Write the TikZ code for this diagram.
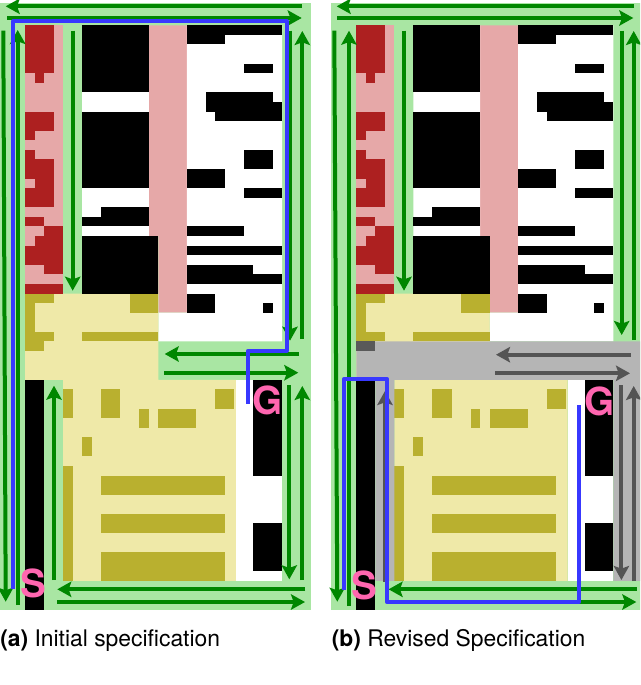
\documentclass[tikz,border=0pt]{standalone}
\usepackage{fontspec}
\setmainfont{TeX Gyre Heros}
\usepackage{xcolor}
\usetikzlibrary{arrows.meta}
\definecolor{mapgreen}{HTML}{A9E6A3}
\definecolor{mappink}{HTML}{E6A8A8}
\definecolor{mapred}{HTML}{AD2020}
\definecolor{mapyellow}{HTML}{EFE9A8}
\definecolor{mapolive}{HTML}{B9B02F}
\definecolor{mapgray}{HTML}{B5B5B5}
\definecolor{pathblue}{HTML}{3838FF}
\definecolor{labelpink}{HTML}{FF66B0}
\tikzset{
  lane/.style={line width=3pt,-{Stealth[length=10.5pt,width=11.5pt,inset=2pt]}},
  greenlane/.style={lane,color=green!53!black},
  graylane/.style={lane,color=black!67},
  route/.style={line width=2.8pt,pathblue,line join=round},
  endlabel/.style={font=\fontsize{29pt}{29pt}\selectfont\bfseries,labelpink,inner sep=0pt},
  subcaption/.style={font=\fontsize{17.15pt}{20pt}\selectfont,anchor=base west,inner sep=0pt}
}
% the map, in grid cells
\newcommand{\mapcells}{
  \fill[mapgreen] (-2.62,-2.36) rectangle (30,61);
  \fill[mappink] (0,0) rectangle (4,28);
  \fill[mappink] (13,0) rectangle (17,22) (14,22) rectangle (17,30);
  \fill[white] (6,0) rectangle (13,22) (17,0) rectangle (27,33) (14,30) rectangle (17,33);
  \fill[mapyellow] (0,28) rectangle (14,37) (4,37) rectangle (22.2,58);
  \fill[white] (22.2,37) rectangle (27,58);
  \foreach \xa/\ya/\xb/\yb in {0/0/3/5,1/5/2/6,0/9/3/11,0/11/1/12,0/13/1/14,0/14/3/16,1/16/3/17,0/17/3/19,
      0/20/2/21,2/21/4/22,1/22/4/23,0/23/4/25,2/25/4/26,0/27/4/28}
    \fill[mapred] (\xa,\ya) rectangle (\xb,\yb);
  \foreach \xa/\ya/\xb/\yb in {0/28/3/29,0/29/1/33,0/32/3/33,0/33/2/34,11/28/14/30,6/32/14/33,
      4/38/5/41,8/38/10/41,20/38/22/40,12/40/13/42,14/40/18/42,6/43/7/45,4/46/5/58,
      8/47/21/49,8/51/21/53,8/55/21/58}
    \fill[mapolive] (\xa,\ya) rectangle (\xb,\yb);
  \foreach \xa/\ya/\xb/\yb in {6/0/13/7,6/9/13/17,8/19/13/20,6/20/13/21,6/22/14/28,
      17/0/27/1,17/1/21/2,23/4/26/5,19/7/26/8,19/8/27/9,20/9/27/10,23/13/26/15,17/15/21/17,
      23/17/27/18,17/21/23/22,17/23/27/24,17/25/24/26,17/26/27/27,17/28/20/30,25/29/26/30,
      24/37/27/47,24/52/27/57,0/37/2/61}
    \fill[black] (\xa,\ya) rectangle (\xb,\yb);
}
\begin{document}
\begin{tikzpicture}[x=0.75pt,y=-0.75pt]
  \clip[use as bounding box] (0,0) rectangle (640,685);

  % (a)
  \begin{scope}[shift={(25,25.3)},x=7.14pt,y=-7.185pt]
    \mapcells
  \end{scope}
  \foreach \xa/\ya/\xb/\yb in {302/6.3/5.7/6.3,7.3/18/301.7/18,3.3/30.7/5.7/601.7,17.7/605/17.7/30,72.7/30.7/72.7/290.7,
      290/30.7/290/340.7,302.3/339/302.3/31,299/354/164.7/354,164/372.7/298.3/372.7,54/580/54/385.7,
      289.3/385.3/289.3/579.3,302.3/580/302.3/386,305.3/589.3/57.3/589.3,57.3/602/305/602}
    \draw[greenlane] (\xa,\ya) -- (\xb,\yb);
  \draw[route] (13.3,589.3) -- (13.3,21) -- (286.7,21) -- (286.7,350.7) -- (247.7,350.7) -- (247.7,404);
  \node[endlabel] (starta) at (33.3,583) {S};
  \node[endlabel] (goala) at (268,400.7) {G};
  \node[subcaption] (captiona) at (0,646) {\textbf{(a)} Initial specification};

  % (b)
  \begin{scope}[shift={(356.3,25.3)},x=7.14pt,y=-7.185pt]
    \mapcells
    \fill[mapgray] (0,33) rectangle (30,37) (2,37) rectangle (4,58) (27,37) rectangle (30,58);
    \fill[black!65] (0,33) rectangle (2,34);
  \end{scope}
  \foreach \xa/\ya/\xb/\yb in {634/6.3/336.7/6.3,337.3/18/633.3/18,334.3/30.7/337.3/601.7,349/606/349/30.7,404/30.7/404/290.7,
      621.7/30.7/621.7/335,633.7/340/633.7/31,636.6/589.3/388.6/589.3,388.6/602/636.3/602}
    \draw[greenlane] (\xa,\ya) -- (\xb,\yb);
  \foreach \xa/\ya/\xb/\yb in {630.7/354.7/496/354.7,495.3/373.3/630/373.3,385/581.7/385/391,
      621.4/385.3/621.4/580,633.7/581/633.7/386}
    \draw[graylane] (\xa,\ya) -- (\xb,\yb);
  \draw[route] (344.3,590) -- (344.3,378.7) -- (386.7,378.7) -- (386.7,602) -- (579.3,602) -- (579.3,405);
  \node[endlabel] (startb) at (364.3,585) {S};
  \node[endlabel] (goalb) at (600,401.7) {G};
  \node[subcaption] (captionb) at (331.5,646) {\textbf{(b)} Revised Specification};
\end{tikzpicture}
\end{document}
